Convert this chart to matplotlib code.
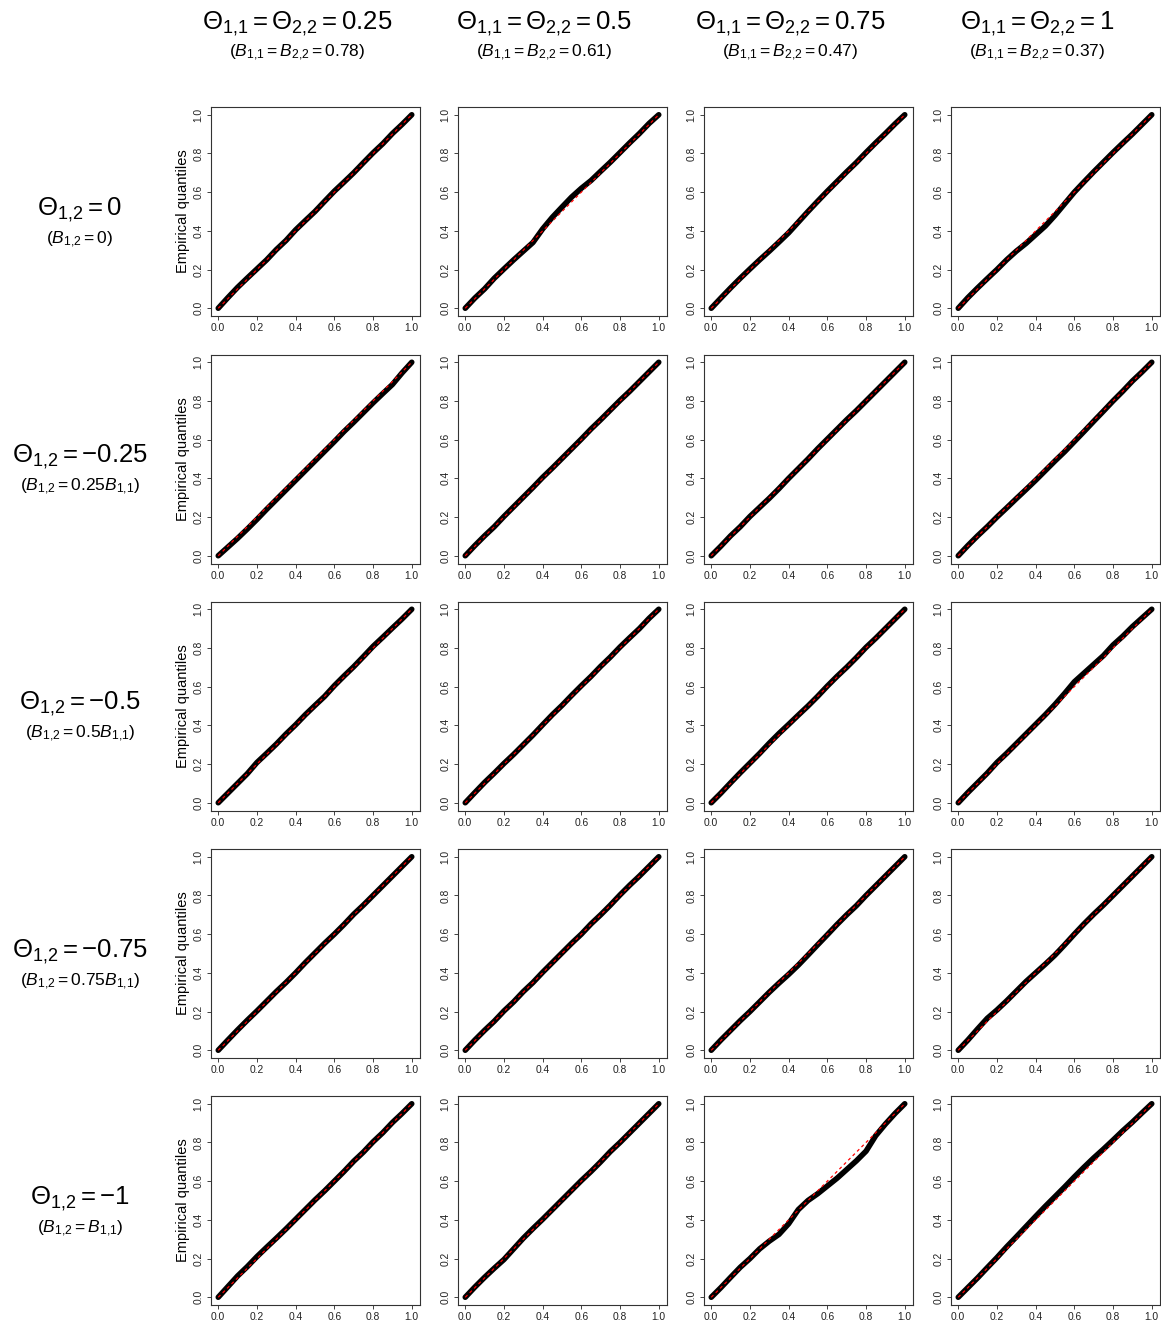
import numpy as np
import matplotlib
matplotlib.use("Agg")
import matplotlib.pyplot as plt

plt.rcParams["font.family"] = ["Liberation Sans", "DejaVu Sans"]
plt.rcParams["mathtext.fontset"] = "custom"
plt.rcParams["mathtext.rm"] = "Liberation Sans"
plt.rcParams["mathtext.it"] = "Liberation Sans:italic"
plt.rcParams["mathtext.bf"] = "Liberation Sans:bold"

# theoretical quantile levels where the empirical curve was read
levels = [0.0, 0.05, 0.1, 0.15, 0.2, 0.25, 0.3, 0.35, 0.4, 0.45, 0.5,
          0.55, 0.6, 0.65, 0.7, 0.75, 0.8, 0.85, 0.9, 0.95, 1.0]

# column / row parameters
theta_diag = ["0.25", "0.5", "0.75", "1"]
b_diag = ["0.78", "0.61", "0.47", "0.37"]
theta_off = ["0", "-0.25", "-0.5", "-0.75", "-1"]
b_off = ["0", "0.25B_{1{,}1}", "0.5B_{1{,}1}", "0.75B_{1{,}1}", "B_{1{,}1}"]

# empirical minus theoretical quantile (in hundredths), one list per column
dev_off_0 = [
    [0, .5, .8, .6, .3, 0, .3, 0, .5, .3, 0, .3, .5, .2, 0, .2, .3, 0, .3, 0, 0],
    [0, .3, 0, .5, .3, 0, -.5, -1, 1, 2, 2.3, 2.5, 2, 1, .8, .5, .5, .5, .3, .5, 0],
    [0, .3, .5, .5, .3, 0, -.5, -.8, -1, -.5, 0, .3, .5, .5, .5, .3, .5, .5, .3, .3, 0],
    [0, .5, .5, .3, 0, 0, -.5, -1.5, -2, -2.5, -2, -1, 0, .3, .5, .5, .5, .3, 0, 0, 0],
]
dev_off_025 = [
    [0, -.5, -1, -1.2, -1.2, -1, -1, -1, -1, -1, -1, -1, -1, -.8, -1, -1, -1, -1.2, -1.5, -.5, 0],
    [0, .3, .3, 0, .3, .3, .3, .3, .5, .3, .3, .3, .3, .5, .3, .3, .3, 0, 0, 0, 0],
    [0, 0, .3, 0, .3, 0, -.3, -.3, 0, 0, 0, .3, .3, .3, .3, 0, 0, 0, 0, 0, 0],
    [0, .3, .3, 0, 0, -.3, -.5, -.8, -1, -1, -1, -1.2, -1, -.8, -.5, -.3, 0, 0, .3, 0, 0],
]
dev_off_05 = [
    [0, 0, 0, 0, .8, .5, .3, .5, .3, .5, .3, 0, .5, .5, .3, .5, .8, .5, .3, 0, 0],
    [0, .3, .5, .3, .3, 0, 0, 0, .3, .5, .3, .5, .5, .3, .5, .3, .5, .3, 0, .3, 0],
    [0, 0, .3, .5, .5, .5, .8, .8, .5, .3, 0, 0, .3, .3, 0, 0, .3, 0, 0, 0, 0],
    [0, .3, .3, .3, .8, .5, .5, .5, .5, .5, .8, 1.5, 2.5, 2, 1.5, 1, 1.5, 1, 1, .5, 0],
]
dev_off_075 = [
    [0, .3, .5, .5, .3, .3, .3, 0, 0, .3, .3, .3, 0, 0, .3, 0, 0, 0, 0, 0, 0],
    [0, .3, .3, 0, .3, 0, .3, 0, .3, .3, .3, .3, 0, .3, 0, 0, .3, .3, 0, 0, 0],
    [0, .3, .3, .3, 0, 0, 0, -.3, -.8, -1, -.8, -.5, -.3, 0, 0, -.3, 0, 0, 0, 0, 0],
    [0, .3, 1, 1.5, .8, .5, .5, .5, 0, -.5, -.8, -.5, 0, .3, .3, 0, 0, 0, 0, 0, 0],
]
dev_off_1 = [
    [0, .5, 1, .8, 1, .8, .5, .3, .3, .3, .3, 0, 0, 0, .3, 0, .3, 0, .3, 0, 0],
    [0, .3, .3, 0, -.5, 0, .5, .5, .3, .3, .3, .3, .3, 0, 0, .3, 0, 0, 0, 0, 0],
    [0, 0, .3, .5, 0, 0, -1, -2.5, -2, .3, 0, -1.5, -2.5, -3.5, -4, -4.5, -4.5, -1.5, -.5, 0, 0],
    [0, 0, 0, .3, .5, 1, 1.2, 1.5, 1.8, 2, 2, 2, 2.2, 2.2, 2, 1.5, 1.2, 1, .5, .3, 0],
]
deviations = [dev_off_0, dev_off_025, dev_off_05, dev_off_075, dev_off_1]

W, H = 1161, 1320
fig = plt.figure(figsize=(W / 100, H / 100), dpi=100)

col_left = [210.5, 457.5, 703.5, 950.5]
row_top = [107, 354.5, 601.5, 849, 1096]
box = 209

q = np.array(levels)
ticks = [0.0, 0.2, 0.4, 0.6, 0.8, 1.0]
for r in range(5):
    for c in range(4):
        ax = fig.add_axes([col_left[c] / W, 1 - (row_top[r] + box) / H, box / W, box / H])
        emp = q + np.array(deviations[r][c]) / 100
        ax.plot(q, emp, color="black", lw=4.0, solid_capstyle="round",
                solid_joinstyle="round")
        ax.plot(q, q, color="red", lw=0.9, ls=(0, (2.5, 2.5)))
        ax.set_xlim(-0.04, 1.04)
        ax.set_ylim(-0.04, 1.04)
        ax.set_xticks(ticks)
        ax.set_yticks(ticks)
        ax.set_xticklabels([f"{t:.1f}" for t in ticks])
        ax.set_yticklabels([f"{t:.1f}" for t in ticks], rotation=90, va="center")
        ax.tick_params(labelsize=7.4, length=3, width=0.6, pad=2.2, colors="#222222")
        for s in ax.spines.values():
            s.set_linewidth(0.8)
            s.set_color("#333333")
        if c == 0:
            ax.set_ylabel("Empirical quantiles", fontsize=10.5, labelpad=2)

# column headers
for c in range(4):
    xc = (col_left[c] + box / 2 - 18) / W
    fig.text(xc, 1 - 24 / H, r"$\Theta_{1{,}1} = \Theta_{2{,}2} = %s$" % theta_diag[c],
             ha="center", va="center", fontsize=18.5)
    fig.text(xc, 1 - 53 / H, r"$(B_{1{,}1} = B_{2{,}2} = %s)$" % b_diag[c],
             ha="center", va="center", fontsize=12.5)

# row headers
for r in range(5):
    yc = row_top[r] + box / 2
    fig.text(80 / W, 1 - (yc - 2) / H, r"$\Theta_{1{,}2} = %s$" % theta_off[r],
             ha="center", va="center", fontsize=18.5)
    fig.text(80 / W, 1 - (yc + 28) / H, r"$(B_{1{,}2} = %s)$" % b_off[r],
             ha="center", va="center", fontsize=12.5)

fig.savefig("out.png", dpi=100)
